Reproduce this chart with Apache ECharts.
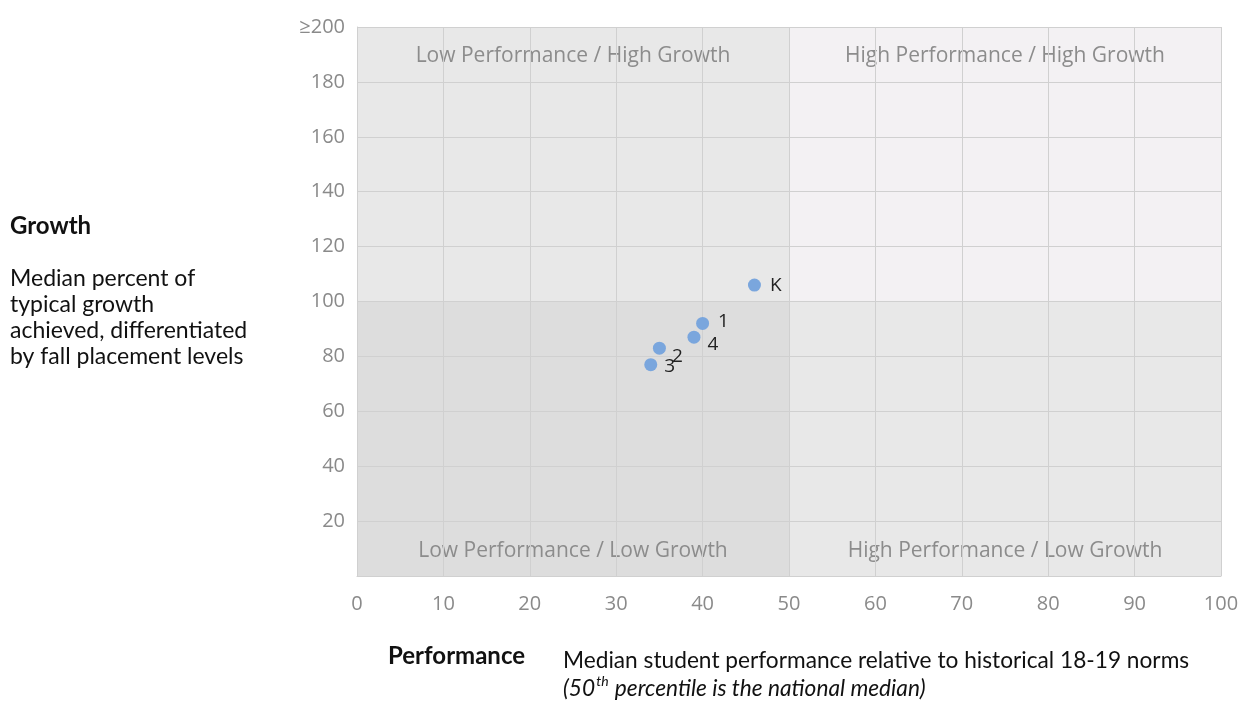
<!DOCTYPE html>
<html>
<head>
<meta charset="utf-8">
<script src="https://cdn.jsdelivr.net/npm/echarts@6/dist/echarts.min.js"></script>
<style>
html,body{margin:0;padding:0;background:#fff;}
#chart{width:1257px;height:709px;}
</style>
</head>
<body>
<div id="chart"></div>
<script>
// Data
const gradeNames = ['K', '1', '4', '2', '3'];
const performanceValues = [46, 40, 39, 35, 34];
const growthValues = [106, 92, 87, 83, 77];
const xTicks = [0, 10, 20, 30, 40, 50, 60, 70, 80, 90, 100];
const yTicks = [20, 40, 60, 80, 100, 120, 140, 160, 180, 200];
const quadrantNames = ['Low Performance / High Growth', 'High Performance / High Growth', 'Low Performance / Low Growth', 'High Performance / Low Growth'];

const labelOffsets = { 'K': [2, 1], '1': [2, -2], '4': [0, 7], '2': [-1, 8], '3': [0, 2] };

const chart = echarts.init(document.getElementById('chart'));
const points = gradeNames.map((n, i) => ({
  name: n,
  value: [performanceValues[i], growthValues[i]],
  label: { offset: labelOffsets[n] }
}));

const qLabel = (pos, d) => ({ show: true, position: pos, distance: d, color: '#8c8c8c', fontSize: 21, fontFamily: 'Open Sans' });

const option = {
  backgroundColor: '#ffffff',
  animation: false,
  textStyle: { fontFamily: 'Open Sans' },
  grid: { left: 357, right: 36, top: 27, bottom: 133, containLabel: false },
  xAxis: {
    type: 'value', min: 0, max: 100, interval: 10, z: 3,
    axisLine: { show: true, lineStyle: { color: '#d0d0d0', width: 1 } },
    axisTick: { show: false },
    splitLine: { show: true, lineStyle: { color: '#d0d0d0', width: 1 } },
    axisLabel: { color: '#8a8a8a', fontSize: 20, margin: 18, fontFamily: 'Open Sans',
      formatter: v => xTicks.includes(v) ? String(v) : '' }
  },
  yAxis: {
    type: 'value', min: 0, max: 200, interval: 20, z: 3,
    axisLine: { show: true, lineStyle: { color: '#d0d0d0', width: 1 } },
    axisTick: { show: false },
    splitLine: { show: true, lineStyle: { color: '#d0d0d0', width: 1 } },
    axisLabel: { color: '#8a8a8a', fontSize: 20, margin: 12, fontFamily: 'Open Sans',
      formatter: v => v === 200 ? '≥200' : (yTicks.includes(v) ? String(v) : '') }
  },
  series: [{
    type: 'scatter',
    data: [],
    z: 1,
    silent: true,
    markArea: {
      silent: true,
      data: [
        [{ coord: [0, 100], itemStyle: { color: '#e8e8e8' }, label: qLabel('insideTop', 19), name: quadrantNames[0] }, { coord: [50, 200] }],
        [{ coord: [50, 100], itemStyle: { color: '#f3f1f3' }, label: qLabel('insideTop', 19), name: quadrantNames[1] }, { coord: [100, 200] }],
        [{ coord: [0, 0], itemStyle: { color: '#dddddd' }, label: qLabel('insideBottom', 14), name: quadrantNames[2] }, { coord: [50, 100] }],
        [{ coord: [50, 0], itemStyle: { color: '#e8e8e8' }, label: qLabel('insideBottom', 14), name: quadrantNames[3] }, { coord: [100, 100] }]
      ]
    }
  }, {
    type: 'scatter',
    symbolSize: 13,
    itemStyle: { color: '#7aa6dd', opacity: 1 },
    label: { show: true, position: 'right', distance: 7, formatter: p => p.name, color: '#222', fontSize: 19, fontFamily: 'Open Sans' },
    data: points,
    z: 5
  }],
  graphic: [
    { type: 'text', left: 10, top: 214, style: { text: 'Growth', font: 'bold 24px Lato', fill: '#111' } },
    { type: 'text', left: 10, top: 266, style: { text: 'Median percent of\ntypical growth\nachieved, differentiated\nby fall placement levels', font: '23px Lato', fill: '#111', lineHeight: 26 } },
    { type: 'text', left: 388, top: 644, style: { text: 'Performance', font: 'bold 24px Lato', fill: '#111' } },
    { type: 'text', left: 563, top: 648, style: { text: 'Median student performance relative to historical 18-19 norms', font: '22.7px Lato', fill: '#111', lineHeight: 26 } },
    { type: 'text', left: 563, top: 674, style: {
      text: '{a|(50}{s|th}{a| percentile is the national median)}',
      rich: {
        a: { font: 'italic 22.7px Lato', fill: '#111', lineHeight: 26, verticalAlign: 'bottom' },
        s: { font: 'italic 14px Lato', fill: '#111', verticalAlign: 'top', padding: [0, 1, 10, 1] }
      }
    } }
  ]
};
chart.setOption(option);
</script>
</body>
</html>
